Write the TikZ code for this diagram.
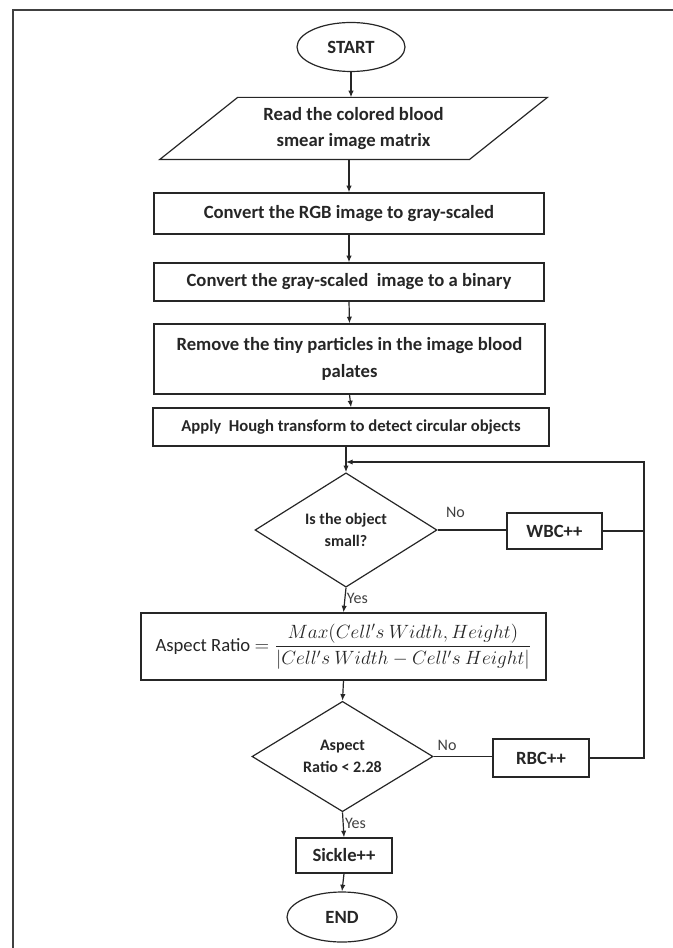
\documentclass[tikz,border=0pt]{standalone}
\usepackage{amsmath}
\usepackage{fontspec}
\setmainfont{Carlito}
\usepackage{tikz}
\usetikzlibrary{shapes.geometric,arrows.meta}

\begin{document}
\begin{tikzpicture}[x = 0.75pt, y = -0.75pt, line width = 0.9pt, color = black!85,
                        >= {Latex[length=5pt, width=4pt]},
                        proc/.style = {rectangle, draw, align = center, inner sep = 2pt, font = \fontsize{14}{20}\selectfont\bfseries},
                        term/.style = {ellipse, draw, inner sep = 0pt, font = \fontsize{14}{20}\selectfont\bfseries},
                        io/.style = {rectangle, align = center, inner sep = 1pt, font = \fontsize{14}{19.5}\selectfont\bfseries},
                        decide/.style = {diamond, draw, align = center, inner sep = 0pt, font = \fontsize{12}{16}\selectfont\bfseries},
                        lbl/.style = {inner sep = 1pt, font = \fontsize{12}{14}\selectfont, text = black!75}]
      \useasboundingbox (0, 0) rectangle (673, 948);
      \draw [line width = 1.2pt, black!75] (13, 948) -- (13, 10) -- (673, 10);

      \node [term, minimum width = 81pt, minimum height = 36.75pt] (start) at (351, 47){START};
      \node [io, minimum width = 231.4pt, minimum height = 45.75pt] (read) at (353.5, 128.5){Read the colored blood\\smear image matrix};
      \draw ([xshift = 29.25pt]read.north west) -- ([xshift = 29.25pt]read.north east)
            -- ([xshift = -29.25pt]read.south east) -- ([xshift = -29.25pt]read.south west) -- cycle;
      \node [proc, minimum width = 292.5pt, minimum height = 30.75pt] (gray) at (349, 213.5){Convert the RGB image to gray-scaled};
      \node [proc, minimum width = 292.5pt, minimum height = 28.5pt] (binary) at (349, 282){Convert the gray-scaled\ \ image to a binary};
      \node [proc, minimum width = 293.25pt, minimum height = 52.5pt] (clean) at (349.5, 359){Remove the tiny particles in the image blood\\palates};
      \node [proc, minimum width = 297pt, minimum height = 28.5pt, font = \fontsize{12.5}{16}\selectfont\bfseries] (hough) at (351, 427){Apply\ \ Hough transform to detect circular objects};
      \node [decide, minimum width = 136.5pt, minimum height = 70.5pt] (small) at (346, 530){Is the object\\small?};
      \node [proc, minimum width = 71.25pt, minimum height = 27pt] (wbc) at (554.5, 531){WBC++};
      \node [proc, minimum width = 303.75pt, minimum height = 50.25pt, font = \fontsize{14}{20}\selectfont] (ratio) at (343.5, 646.5){Aspect Ratio $=\dfrac{Max(Cell's\ Width, Height)}{|Cell's\ Width - Cell's\ Height|}$};
      \node [decide, minimum width = 135.75pt, minimum height = 69.75pt] (aspect) at (342.5, 756.5){Aspect\\Ratio < 2.28};
      \node [proc, minimum width = 72pt, minimum height = 28.5pt] (rbc) at (541, 758){RBC++};
      \node [proc, minimum width = 72pt, minimum height = 26.25pt] (sickle) at (344, 855.5){Sickle++};
      \node [term, minimum width = 82.5pt, minimum height = 37.5pt] (end) at (342, 917){END};
      \coordinate (back) at (644, 462);

      \draw [->] (start.south) -- (start.south |- read.north);
      \draw [->] (gray.north |- read.south) -- (gray.north);
      \draw [->] (gray.south) -- (binary.north);
      \draw [->] (binary.south) -- (clean.north);
      \draw [->] (clean.south) -- (hough.north);
      \draw [->] (hough.south -| small.north) -- (small.north);
      \draw (small.east) -- (small.east -| wbc.west) node [lbl, pos = 0.26, above = 8pt]{No};
      \draw (wbc.east) -- (wbc.east -| back);
      \draw [->] (small.south) -- (ratio.north) node [lbl, pos = 0.42, right]{Yes};
      \draw [->] (ratio.south) -- (aspect.north);
      \draw (aspect.east) -- (aspect.east -| rbc.west) node [lbl, pos = 0.23, above = 3pt]{No};
      \draw [->] (rbc.east) -| (back) -- (back -| small.north);
      \draw [->] (aspect.south) -- (sickle.north) node [lbl, pos = 0.43, right]{Yes};
      \draw [->] (sickle.south) -- (end.north);
      \end{tikzpicture}
\end{document}
